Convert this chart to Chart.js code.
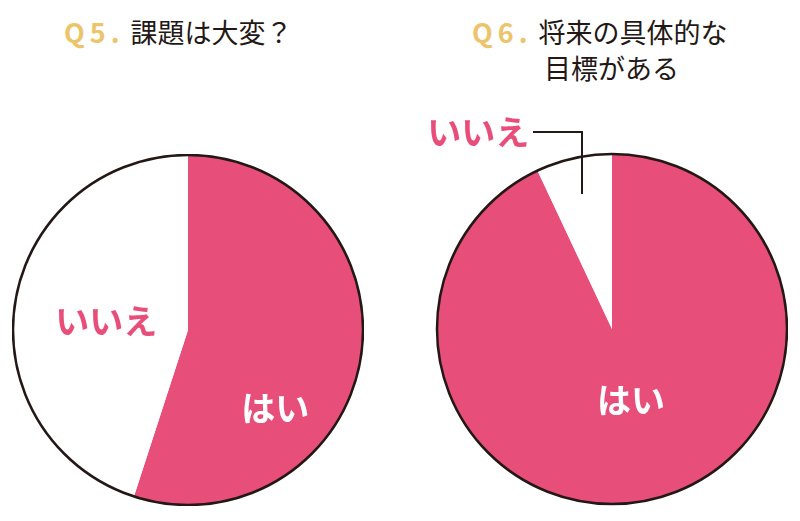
<!DOCTYPE html>
<html><head><meta charset="utf-8">
<script src="https://cdn.jsdelivr.net/npm/chart.js@4"></script>
<style>
body{margin:0;width:800px;height:521px;background:#fff;position:relative;overflow:hidden;font-family:"Noto Sans CJK JP",sans-serif;}
.t{position:absolute;font-size:27px;color:#231815;line-height:36px;}
.q{color:#ecc46c;letter-spacing:5px;margin-right:6px;font-weight:bold;}
canvas{position:absolute;}
</style></head><body>
<div class="t" style="left:64px;top:14px"><span class="q">Q5.</span>課題は大変？</div>
<div class="t" style="left:472px;top:14px"><span class="q">Q6.</span>将来の具体的な<br><span style="margin-left:72px">目標がある</span></div>
<canvas id="c1" width="352" height="352" style="left:12px;top:154px"></canvas>
<canvas id="c2" width="388" height="472" style="left:400px;top:34px"></canvas>
<script>
/* ── DATA ─────────────────────────────── */
const labels = ["はい", "いいえ"];
const q5Values = [55, 45];
const q6Values = [93, 7];
const colors = ["#e84e7a", "#ffffff"];

/* ── LABEL + OUTLINE PLUGIN ───────────── */
const pieDecor = {
  id: "pieDecor",
  afterDraw(chart, args, opts) {
    const ctx = chart.ctx;
    const arc = chart.getDatasetMeta(0).data[0];
    const { x, y, outerRadius } = arc;
    ctx.save();
    ctx.beginPath();
    ctx.arc(x, y, outerRadius, 0, Math.PI * 2);
    ctx.lineWidth = 2.5;
    ctx.strokeStyle = "#231815";
    ctx.stroke();
    ctx.font = "bold 34px 'Noto Sans CJK JP'";
    ctx.textAlign = "center";
    ctx.textBaseline = "middle";
    opts.spots.forEach((s, i) => {
      const a = (s.angle - 90) * Math.PI / 180;
      ctx.fillStyle = s.color;
      ctx.fillText(chart.data.labels[i], x + Math.cos(a) * s.r * outerRadius, y + Math.sin(a) * s.r * outerRadius);
    });
    if (opts.leader) {
      const l = opts.leader;
      ctx.beginPath();
      ctx.moveTo(x + l[0], y + l[1]);
      ctx.lineTo(x + l[2], y + l[1]);
      ctx.lineTo(x + l[2], y + l[3]);
      ctx.lineWidth = 2;
      ctx.stroke();
    }
    ctx.restore();
  }
};

function makePie(id, values, spots, leader, padding) {
  return new Chart(document.getElementById(id), {
    type: "pie",
    data: { labels, datasets: [{ data: values, backgroundColor: colors, borderWidth: 0 }] },
    options: {
      responsive: false,
      animation: false,
      layout: { padding },
      plugins: { legend: { display: false }, tooltip: { enabled: false }, pieDecor: { spots, leader } }
    },
    plugins: [pieDecor]
  });
}

makePie("c1", q5Values, [
  { angle: 132, r: 0.67, color: "#fff" },
  { angle: 276, r: 0.47, color: "#e84e7a" }
], null, 1);
makePie("c2", q6Values, [
  { angle: 165, r: 0.42, color: "#fff" },
  { angle: 325.8, r: 1.36, color: "#e84e7a" }
], [-79, -197, -30, -135], { top: 119, left: 37, right: 1, bottom: 1 });
</script>
</body></html>
